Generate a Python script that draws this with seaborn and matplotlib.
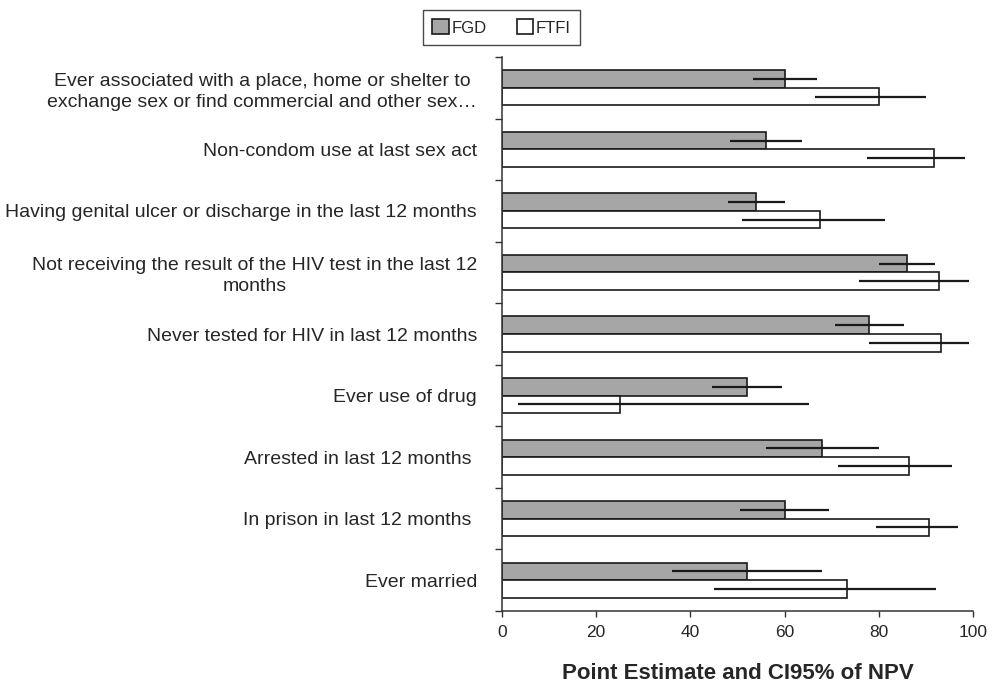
import pandas as pd
import matplotlib.pyplot as plt
import seaborn as sns

# Dados (ponto estimado e IC95% do VPN)
categorias = [
    "Ever associated with a place, home or shelter to\nexchange sex or find commercial and other sex…",
    "Non-condom use at last sex act",
    "Having genital ulcer or discharge in the last 12 months",
    "Not receiving the result of the HIV test in the last 12\nmonths",
    "Never tested for HIV in last 12 months",
    "Ever use of drug",
    "Arrested in last 12 months ",
    "In prison in last 12 months ",
    "Ever married",
]
grupos = ["FGD", "FTFI"]

fgd_valor = [60.0, 56.0, 54.0, 86.0, 78.0, 52.0, 68.0, 60.0, 52.0]
fgd_inf = [53.3, 48.4, 48.0, 80.0, 70.7, 44.6, 56.0, 50.5, 36.0]
fgd_sup = [66.8, 63.7, 60.0, 92.0, 85.4, 59.4, 80.0, 69.5, 68.0]

ftfi_valor = [80.0, 91.7, 67.5, 92.7, 93.3, 25.0, 86.5, 90.7, 73.3]
ftfi_inf = [66.4, 77.5, 51.0, 75.8, 77.9, 3.3, 71.3, 79.3, 45.0]
ftfi_sup = [90.0, 98.2, 81.4, 99.1, 99.2, 65.1, 95.5, 96.9, 92.1]

xticks = [0, 20, 40, 60, 80, 100]

df = pd.DataFrame({
    "categoria": categorias * 2,
    "grupo": ["FGD"] * len(categorias) + ["FTFI"] * len(categorias),
    "valor": fgd_valor + ftfi_valor,
    "inf": fgd_inf + ftfi_inf,
    "sup": fgd_sup + ftfi_sup,
})

sns.set_style("white")
plt.rcParams['font.family'] = ['Liberation Sans', 'DejaVu Sans']

fig = plt.figure(figsize=(10.03, 6.88), dpi=100)
ax = fig.add_axes([0.5005, 0.112, 0.4696, 0.805])

sns.barplot(data=df, y="categoria", x="valor", hue="grupo", hue_order=grupos,
            palette={"FGD": "#a6a6a6", "FTFI": "white"}, orient="h",
            width=0.57, errorbar=None, edgecolor="#1a1a1a", linewidth=1.2,
            ax=ax, legend=True)

# Barras de erro (IC95%) centradas em cada barra
for container, grupo in zip(ax.containers, grupos):
    sub = df[df["grupo"] == grupo]
    for bar, lo, hi in zip(container, sub["inf"], sub["sup"]):
        yc = bar.get_y() + bar.get_height() / 2
        ax.plot([lo, hi], [yc, yc], color="#1a1a1a", linewidth=1.6,
                solid_capstyle="butt", zorder=5)

ax.set_xlim(0, 100)
ax.set_ylim(len(categorias) - 0.5, -0.5)
ax.set_xticks(xticks)
ax.set_xticklabels([str(t) for t in xticks], fontsize=12.5)
ax.tick_params(axis="x", direction="out", length=4, width=1, color="#333333",
               pad=6, bottom=True)
ax.tick_params(axis="y", which="major", length=0, pad=18, labelsize=14)
ax.set_yticks([i - 0.5 for i in range(len(categorias) + 1)], minor=True)
ax.tick_params(axis="y", which="minor", direction="out", length=5, width=1,
               color="#333333", left=True)
for t in ax.get_yticklabels():
    t.set_multialignment("center")
    t.set_linespacing(1.3)

ax.set_ylabel("")
ax.set_xlabel("Point Estimate and CI95% of NPV", fontsize=16,
              fontweight="bold", labelpad=17)

sns.despine(ax=ax)
for lado in ["left", "bottom"]:
    ax.spines[lado].set_color("#333333")
    ax.spines[lado].set_linewidth(1.1)

ax.get_legend().remove()
leg = fig.legend(*ax.get_legend_handles_labels(), loc="upper center",
                 bbox_to_anchor=(0.5, 0.985), ncol=2, fontsize=12,
                 frameon=True, fancybox=False, handlelength=1.0,
                 handleheight=1.0, handletextpad=0.15, columnspacing=1.8,
                 borderpad=0.55, borderaxespad=0)
leg.get_frame().set_edgecolor("#1a1a1a")
leg.get_frame().set_linewidth(1.0)

plt.savefig("out.png", dpi=100)
plt.close()
